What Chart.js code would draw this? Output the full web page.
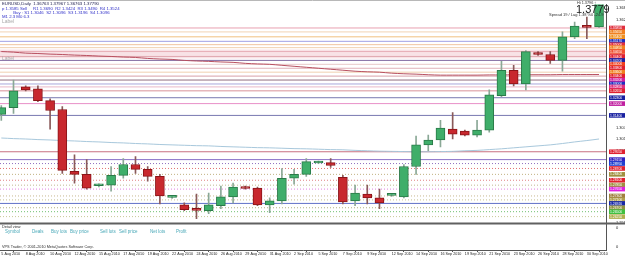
<!DOCTYPE html>
<html><head><meta charset="utf-8">
<script src="https://cdn.jsdelivr.net/npm/chart.js@4.4.0/dist/chart.umd.min.js"></script>
<style>html,body{margin:0;padding:0;background:#fff;overflow:hidden}</style>
</head><body>
<canvas id="c" width="625" height="258"></canvas>
<script>
const dates = ["5 Aug 2010","6 Aug 2010","8 Aug 2010","9 Aug 2010","10 Aug 2010","11 Aug 2010","12 Aug 2010","13 Aug 2010","15 Aug 2010","16 Aug 2010","17 Aug 2010","18 Aug 2010","19 Aug 2010","20 Aug 2010","22 Aug 2010","23 Aug 2010","24 Aug 2010","25 Aug 2010","26 Aug 2010","27 Aug 2010","29 Aug 2010","30 Aug 2010","31 Aug 2010","1 Sep 2010","2 Sep 2010","3 Sep 2010","5 Sep 2010","6 Sep 2010","7 Sep 2010","8 Sep 2010","9 Sep 2010","10 Sep 2010","12 Sep 2010","13 Sep 2010","14 Sep 2010","15 Sep 2010","16 Sep 2010","17 Sep 2010","19 Sep 2010","20 Sep 2010","21 Sep 2010","22 Sep 2010","23 Sep 2010","24 Sep 2010","26 Sep 2010","27 Sep 2010","28 Sep 2010","29 Sep 2010","30 Sep 2010","1 Oct 2010"];
const opens  = [1.3145,1.3180,1.3285,1.3275,1.3215,1.3170,1.2855,1.2840,1.2782,1.2785,1.2835,1.2890,1.2865,1.2830,1.2723,1.2685,1.2663,1.2655,1.2680,1.2725,1.2775,1.2770,1.2685,1.2705,1.2820,1.2840,1.2898,1.2900,1.2825,1.2705,1.2740,1.2720,1.2733,1.2725,1.2880,1.2990,1.3015,1.3070,1.3060,1.3040,1.3065,1.3240,1.3370,1.3300,1.3460,1.3450,1.3420,1.3540,1.3593,1.3590];
const highs  = [1.3190,1.3320,1.3290,1.3290,1.3225,1.3185,1.2940,1.2915,1.2792,1.2880,1.2920,1.2930,1.2880,1.2840,1.2730,1.2695,1.2740,1.2745,1.2780,1.2795,1.2780,1.2775,1.2720,1.2870,1.2865,1.2920,1.2907,1.2920,1.2835,1.2785,1.2785,1.2765,1.2742,1.2890,1.3035,1.3040,1.3115,1.3155,1.3065,1.3115,1.3270,1.3415,1.3395,1.3470,1.3465,1.3465,1.3565,1.3615,1.3640,1.3797];
const lows   = [1.3115,1.3150,1.3265,1.3210,1.3070,1.2845,1.2795,1.2765,1.2776,1.2755,1.2820,1.2845,1.2805,1.2690,1.2718,1.2655,1.2615,1.2640,1.2665,1.2695,1.2765,1.2680,1.2645,1.2690,1.2790,1.2830,1.2894,1.2875,1.2690,1.2680,1.2690,1.2665,1.2728,1.2720,1.2840,1.2960,1.2980,1.3020,1.3035,1.3030,1.3055,1.3235,1.3290,1.3270,1.3445,1.3405,1.3365,1.3530,1.3530,1.3588];
const closes = [1.3180,1.3265,1.3270,1.3215,1.3165,1.2860,1.2840,1.2770,1.2788,1.2835,1.2890,1.2865,1.2830,1.2730,1.2727,1.2660,1.2657,1.2685,1.2725,1.2775,1.2768,1.2685,1.2705,1.2820,1.2840,1.2905,1.2903,1.2885,1.2700,1.2745,1.2720,1.2695,1.2737,1.2880,1.2990,1.3015,1.3075,1.3045,1.3040,1.3065,1.3245,1.3370,1.3300,1.3465,1.3450,1.3420,1.3540,1.3595,1.3588,1.3779];
const maSlow = [1.3025,1.3022,1.3020,1.3017,1.3015,1.3012,1.3010,1.3007,1.3005,1.3002,1.3000,1.2997,1.2995,1.2992,1.2990,1.2988,1.2986,1.2985,1.2982,1.2980,1.2978,1.2976,1.2975,1.2973,1.2971,1.2970,1.2968,1.2966,1.2965,1.2962,1.2960,1.2958,1.2957,1.2956,1.2955,1.2955,1.2956,1.2957,1.2960,1.2962,1.2966,1.2970,1.2975,1.2980,1.2985,1.2990,1.2997,1.3005,1.3012,1.3020];
const maFast = [1.3465,1.3462,1.3457,1.3455,1.3452,1.3450,1.3447,1.3445,1.3442,1.3440,1.3437,1.3435,1.3430,1.3427,1.3425,1.3420,1.3417,1.3415,1.3412,1.3410,1.3405,1.3402,1.3400,1.3395,1.3390,1.3385,1.3380,1.3375,1.3370,1.3365,1.3362,1.3360,1.3355,1.3352,1.3350,1.3347,1.3345,1.3345,1.3345,1.3345,1.3346,1.3346,1.3347,1.3347,1.3347,1.3347,1.3348,1.3348,1.3348,1.3348];
const bandTop = 1.3475, bandBottom = 1.3430;
const levels = [1.3585,1.3565,1.3540,1.3517,1.3500,1.3485,1.3465,1.3440,1.3420,1.3400,1.3380,1.3360,1.3340,1.3320,1.3300,1.3285,1.3265,1.3230,1.3200,1.3140,1.2955,1.2915,1.2895,1.2870,1.2840,1.2810,1.2785,1.2765,1.2730,1.2710,1.2692,1.2670,1.2650,1.2625];
const priceTicks = [1.3689,1.3628,1.3567,1.3506,1.3445,1.3384,1.3323,1.3262,1.3201,1.3140,1.3079,1.3018,1.2957,1.2896,1.2835,1.2774,1.2713,1.2652,1.2591];

// styles (kept apart from the data)
const levelLine = ['#e8a0b0','#f2d4b4','#f0c080','#a0a0e4','#f0c4a0','#f0d0b0','#e8b0b8','#e0a8b0','#8068a0','#e8c8c8','#e0b0b8','#f0d0b0','#d8a0a8','#907080','#a8a8dc','#e8b8c8','#d89098','#7878b0','#e890c8','#7878b0','#c87080','#8a70c8','#9070c0','#e07070','#c0b080','#e08080','#c0b890','#e080e0','#c8b890','#c8c090','#6070c8','#b0b080','#70c070','#c8c898'];
const levelTag  = ['#e03040','#f08020','#f09020','#2030c0','#e03040','#f08020','#f05030','#e02030','#2020a0','#f04020','#e02030','#f08020','#e02030','#d020a0','#2030c0','#e03080','#e02030','#1820a0','#c020a0','#1820a0','#e02030','#3020c0','#2040d0','#e02030','#a09040','#e02030','#a09040','#e020e0','#a08040','#b0a050','#1828a8','#909040','#40c040','#b0b050'];
const levelDotted = [false,false,false,false,false,false,false,false,false,false,false,false,false,false,false,false,false,false,false,false,false,false,true,true,true,true,true,true,true,true,false,true,true,true];

const idx = dates.map((d,i)=>i+1);
const XMIN = 0.893, XMAX = 50.57;
const up = idx.map((x,i)=>closes[i]>=opens[i]);

const datasets = [];
datasets.push({type:'bar', label:'body', data: idx.map((x,i)=>({x, y:[opens[i], closes[i]]})),
  backgroundColor: up.map(u=>u?'#3fae6a':'#c8282e'), borderColor: up.map(u=>u?'#2a7a48':'#8a1418'),
  borderWidth:1, borderSkipped:false, barThickness:9, minBarLength:2, grouped:false, order:1});
datasets.push({type:'bar', label:'wick', data: idx.map((x,i)=>({x, y:[lows[i], highs[i]]})),
  backgroundColor: up.map(u=>u?'#8aa896':'#8a5a5a'), borderWidth:0, barThickness:1, grouped:false, order:2});
datasets.push({type:'line', label:'maSlow', data: idx.map((x,i)=>({x, y:maSlow[i]})), borderColor:'#a8c8dc', borderWidth:1, pointRadius:0, tension:0.3, order:3});
datasets.push({type:'line', label:'maFast', data: idx.map((x,i)=>({x, y:maFast[i]})), borderColor:'#b85060', borderWidth:1, pointRadius:0, tension:0.3, order:3});
levels.forEach((v,i)=>{
  datasets.push({type:'line', label:'lvl'+i, data:[{x:XMIN,y:v},{x:XMAX,y:v}], borderColor:levelLine[i], borderWidth:1,
    borderDash: levelDotted[i]?[1,2]:[], pointRadius:0, order:5});
});
datasets.push({type:'line', label:'bandTop', data:[{x:XMIN,y:bandTop},{x:XMAX,y:bandTop}], borderColor:'rgba(0,0,0,0)', borderWidth:0, pointRadius:0, fill:'+1', backgroundColor:'rgba(240,190,200,0.45)', order:10});
datasets.push({type:'line', label:'bandBottom', data:[{x:XMIN,y:bandBottom},{x:XMAX,y:bandBottom}], borderColor:'rgba(0,0,0,0)', borderWidth:0, pointRadius:0, order:10});

const FF = '"Liberation Sans", Arial, sans-serif';
const decor = {
  id:'decor',
  beforeDraw(chart){ const c=chart.ctx; c.save(); c.fillStyle='#fff'; c.fillRect(0,0,chart.width,chart.height); c.restore(); },
  afterDraw(chart){
    const c=chart.ctx, ys=chart.scales.y, y2=chart.scales.y2, ca=chart.chartArea;
    c.save();
    c.strokeStyle='#b8b8b8'; c.lineWidth=1; c.beginPath(); c.moveTo(0,0.5); c.lineTo(ys.right,0.5); c.stroke();
    c.strokeStyle='#606060'; c.lineWidth=2; c.beginPath(); c.moveTo(ca.left, y2.top); c.lineTo(ys.right, y2.top); c.stroke();
    c.textBaseline='middle';
    levels.forEach((v,i)=>{
      const py = ys.getPixelForValue(v);
      c.fillStyle = levelTag[i];
      c.fillRect(ys.left+3, py-2.3, ys.right-ys.left-3, 4.6);
      c.fillStyle='#fff'; c.font='3.4px '+FF; c.textAlign='left';
      c.fillText(v.toFixed(5), ys.left+4, py+0.2);
    });
    c.textBaseline='alphabetic'; c.textAlign='left';
    c.font='4.3px '+FF; c.fillStyle='#202050';
    c.fillText('EURUSD,Daily  1.36763 1.37967 1.36763 1.37790', 2, 5);
    c.fillStyle='#3030c8';
    c.fillText('p 1.3585 Sell     R1 1.3690  R2 1.3424  R3 1.3490  R4 1.3524', 2, 9.5);
    c.fillText('      Buy : S1 1.3046  S2 1.3096  S3 1.3196  S4 1.3096', 6, 13.5);
    c.fillText('M1 2.3 M0 6.3', 2, 17.5);
    c.font='5px '+FF; c.fillStyle='#a8a8a8';
    c.fillText('Label', 2, 23);
    c.fillText('Label', 2, 60);
    c.fillStyle='#303030'; c.font='3.8px '+FF;
    c.fillText('Hi 1.3796 \u2191', 577, 4);
    c.font='11px "Liberation Sans Narrow", '+FF; c.fillStyle='#202020';
    c.fillText('1.3779', 576, 13);
    c.font='4px '+FF; c.fillStyle='#303030';
    c.fillText('Spread 19 / Lag 1.38 %0 -24.9', 549, 16);
    const t = y2.top;
    c.font='3.8px '+FF; c.fillStyle='#303030';
    c.fillText('Detail view:', 2, t+4.5);
    c.font='4.5px '+FF; c.fillStyle='#48a8b8';
    [['Symbol',5],['Deals',32],['Buy lots',51],['Buy price',70],['Sell lots',100],['Sell price',119],['Net lots',150],['Profit',176]]
      .forEach(([s,x])=>c.fillText(s, x, t+10));
    c.font='3.8px '+FF; c.fillStyle='#303030';
    c.fillText('VPS Trader, \u00a9 2001-2010 MetaQuotes Software Corp.', 2, t+25);
    c.restore();
  }
};

new Chart(document.getElementById('c'), {
  type:'bar',
  data:{ datasets },
  plugins:[decor],
  options:{
    responsive:false, animation:false, devicePixelRatio:1,
    layout:{padding:0},
    plugins:{legend:{display:false}, tooltip:{enabled:false}},
    scales:{
      x:{type:'linear', min:XMIN, max:XMAX, offset:false,
         grid:{drawOnChartArea:false, drawTicks:true, tickLength:2, color:'#555'},
         border:{display:true, color:'#555'},
         afterBuildTicks:s=>{ s.ticks = idx.filter(v=>v%2===1).map(v=>({value:v})); },
         afterFit:s=>{ s.height = 8; },
         ticks:{autoSkip:false, maxRotation:0, align:'start', padding:0, color:'#222', font:{size:3.7, family:FF},
                callback:v=>dates[Math.round(v)-1]}},
      y:{type:'linear', position:'right', stack:'win', stackWeight:223, min:1.2590, max:1.3705,
         grid:{display:false}, border:{display:true, color:'#555'},
         afterBuildTicks:s=>{ s.ticks = priceTicks.map(v=>({value:v})); },
         afterFit:s=>{ s.width = 19; },
         ticks:{autoSkip:false, padding:2, color:'#222', font:{size:4, family:FF}, callback:v=>v.toFixed(5)}},
      y2:{type:'linear', position:'right', stack:'win', stackWeight:27, min:-0.15, max:1.2,
         grid:{display:false}, border:{display:true, color:'#555'},
         afterBuildTicks:s=>{ s.ticks = [{value:0},{value:1}]; },
         afterFit:s=>{ s.width = 19; },
         ticks:{autoSkip:false, padding:2, color:'#222', font:{size:4, family:FF}, callback:()=> '0'}}
    }
  }
});
</script>
</body></html>
